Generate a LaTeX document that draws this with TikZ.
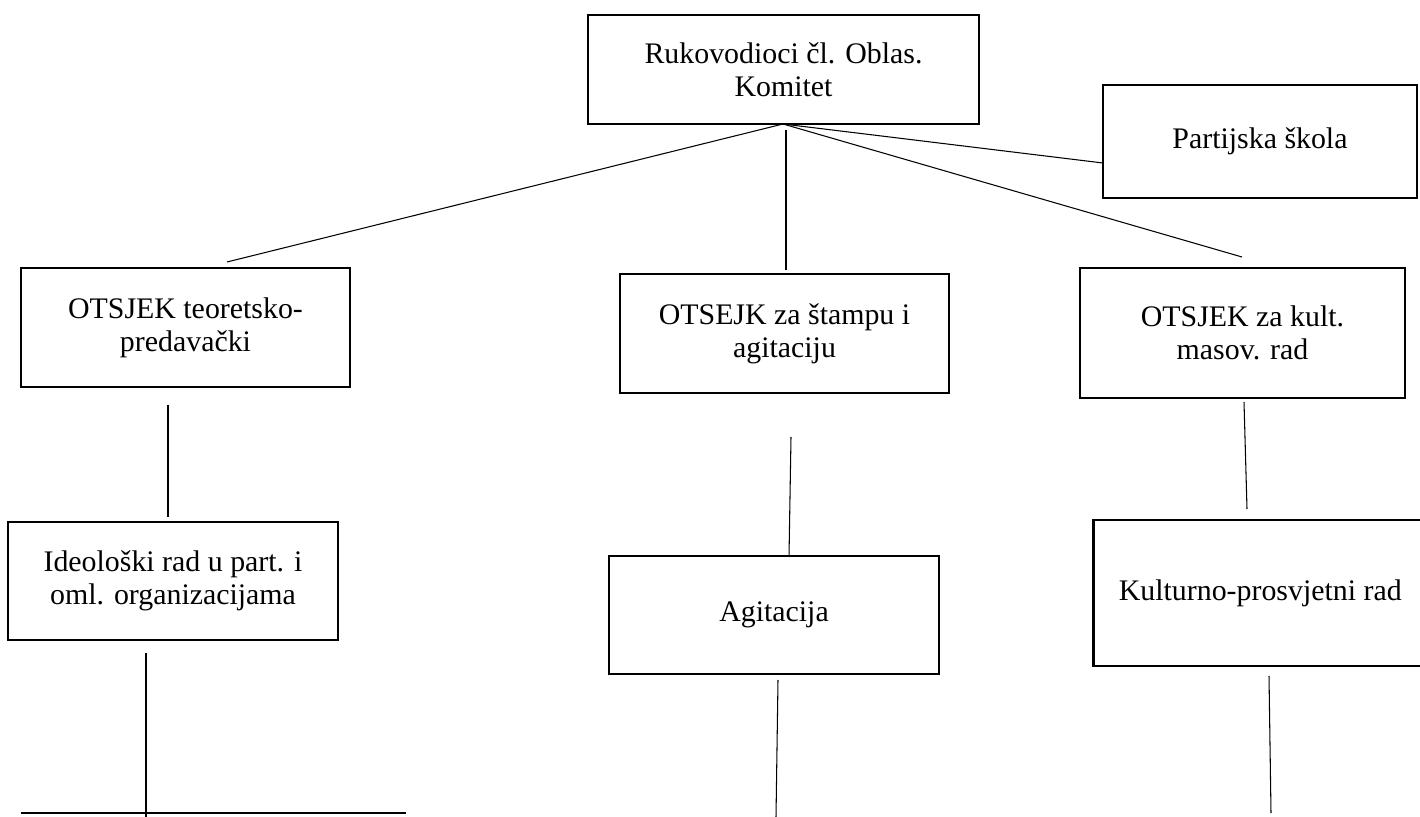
\documentclass[tikz,border=0pt]{standalone}
\usepackage{fontspec}
\setmainfont{Liberation Serif}
\usetikzlibrary{positioning}
\tikzstyle{box} = [rectangle, draw, line width=1.5pt, align=center, inner sep=0pt, font=\fontsize{17}{18.8}\selectfont]
\tikzstyle{link} = [line width=0.6pt]

\begin{document}
\begin{tikzpicture}[x=0.02cm, y=-0.02cm]
        \useasboundingbox (0,0) rectangle (1420,817);

        % Top level
        \node[box, minimum width=7.82cm, minimum height=2.18cm] (vodstvo) at (783.5,69.5) {Rukovodioci čl. Oblas.\\Komitet};
        \node[box, minimum width=6.28cm, minimum height=2.26cm] (skola) at (1260,141.5) {Partijska škola};

        % Otsjeci
        \node[box, minimum width=6.58cm, minimum height=2.38cm] (teor) at (185.5,327.5) {OTSJEK teoretsko-\\predavački};
        \node[box, minimum width=6.58cm, minimum height=2.38cm] (stampa) at (784.5,333.5) {OTSEJK za štampu i\\agitaciju};
        \node[box, minimum width=6.5cm, minimum height=2.6cm] (kult) at (1242.5,333) {OTSJEK za kult.\\masov. rad};

        % Third row
        \node[box, minimum width=6.6cm, minimum height=2.36cm] (ideol) at (173,581) {Ideološki rad u part. i\\oml. organizacijama};
        \node[box, minimum width=6.6cm, minimum height=2.36cm] (agit) at (774,615) {Agitacija};
        \node[box, anchor=west, minimum width=7cm, minimum height=2.92cm] (prosvjeta) at (1092,593) {\hspace*{-0.32cm}Kulturno-prosvjetni rad};

        % Line ends
        \coordinate (hub) at (783,124);
        \coordinate (teorIn) at (227,262);
        \coordinate (stampaOut) at (786,130);
        \coordinate (stampaIn) at (786,270);
        \coordinate (kultIn) at (1242,257);
        \coordinate (skolaIn) at (1103,163);
        \coordinate (teorOut) at (168,405);
        \coordinate (ideolIn) at (168,517);
        \coordinate (ideolOut) at (146,653);
        \coordinate (ideolEnd) at (146,817);
        \coordinate (baseL) at (21,813);
        \coordinate (baseR) at (406,813);
        \coordinate (stampaDown) at (791,437);
        \coordinate (agitIn) at (789,557);
        \coordinate (agitOut) at (778,680);
        \coordinate (agitEnd) at (776,817);
        \coordinate (kultDown) at (1244,402);
        \coordinate (prosvjetaIn) at (1247,509);
        \coordinate (prosvjetaOut) at (1269,676);
        \coordinate (prosvjetaEnd) at (1271,813);

        % Connectors
        \draw[link] (hub) -- (teorIn);
        \draw[link] (stampaOut) -- (stampaIn);
        \draw[link] (hub) -- (kultIn);
        \draw[link] (hub) -- (skolaIn);
        \draw[link] (teorOut) -- (ideolIn);
        \draw[link] (ideolOut) -- (ideolEnd);
        \draw[line width=1.5pt] (baseL) -- (baseR);
        \draw[link] (stampaDown) -- (agitIn);
        \draw[link] (agitOut) -- (agitEnd);
        \draw[link] (kultDown) -- (prosvjetaIn);
        \draw[link] (prosvjetaOut) -- (prosvjetaEnd);

    \end{tikzpicture}
\end{document}
